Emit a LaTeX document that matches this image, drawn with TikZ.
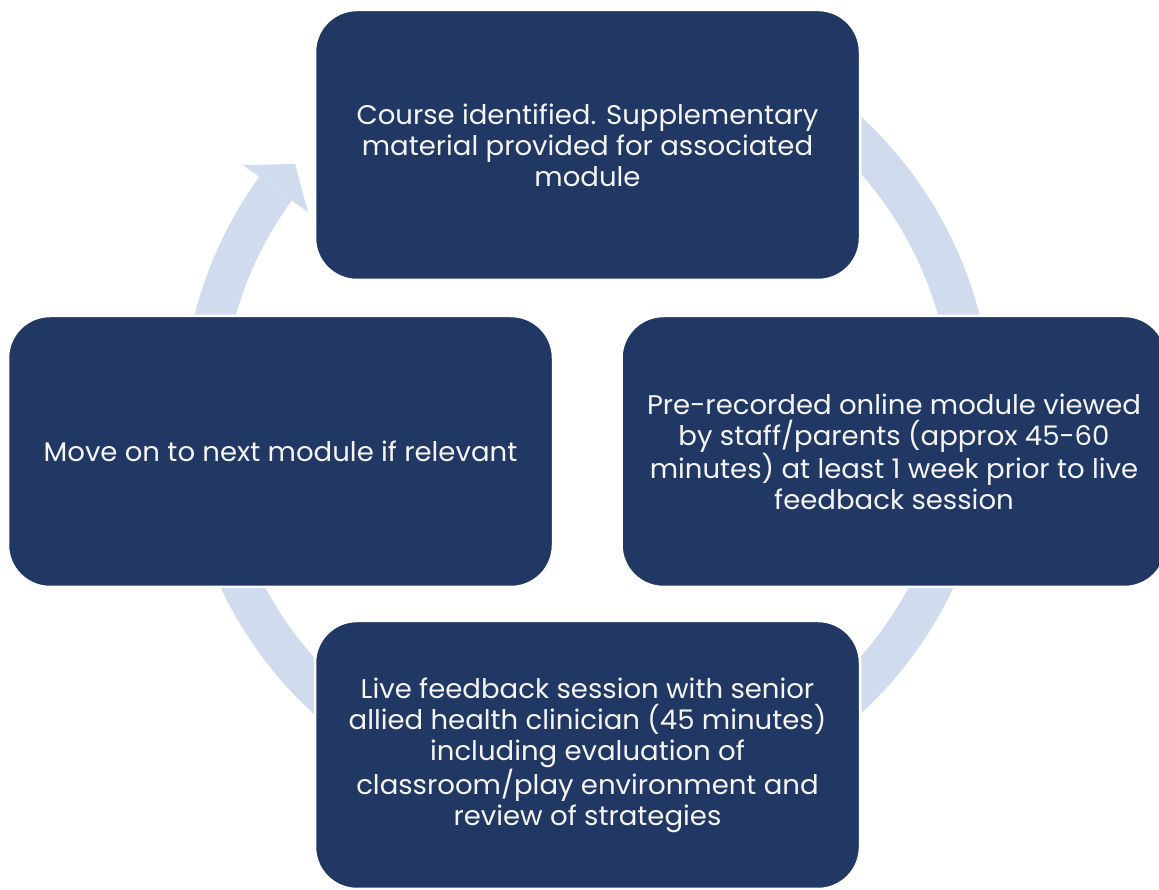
\documentclass[tikz,border=0pt]{standalone}
\usepackage{fontspec}
\setmainfont{Poppins}[FakeStretch=1.02]
\usetikzlibrary{calc}
\definecolor{navy}{RGB}{33,56,100}
\definecolor{ringc}{RGB}{208,220,238}
\definecolor{txt}{RGB}{245,245,245}
\tikzset{
  stepbox/.style={rectangle, rounded corners=42pt, fill=navy, draw=white, line width=2.5pt,
    minimum width=545pt, inner sep=0pt, text=txt, align=center,
    font=\fontsize{27}{31}\selectfont},
  ring/.style={fill=ringc}
}
\begin{document}
\begin{tikzpicture}[x=1pt,y=1pt]
\clip (0,0) rectangle (1159,890);
\fill[white] (0,0) rectangle (1159,890);
\coordinate (C) at (587,475);
% ring with arrowhead
\fill[ring] ($(C)+(75:405)$) arc[start angle=75, end angle=-216, radius=405]
  -- ($(C)+(-216:365)$) arc[start angle=-216, end angle=75, radius=365] -- cycle;
\fill[ring] ($(C)+(-216:345)$) -- ($(C)+(-220.7:385)$) -- ($(C)+(-216:425)$) -- cycle;
% boxes
\node[stepbox, minimum height=270pt] (top) at (587.5,745) {Course identified. Supplementary\\material provided for associated\\module};
\node[stepbox, minimum height=271pt] (right) at (894,438.5) {Pre-recorded online module viewed\\by staff/parents (approx 45-60\\minutes) at least 1 week prior to live\\feedback session};
\node[stepbox, minimum height=271pt] (left) at (280.5,438.5) {Move on to next module if relevant};
\node[stepbox, minimum height=268pt] (bottom) at (587.5,135) {Live feedback session with senior\\allied health clinician (45 minutes)\\including evaluation of\\classroom/play environment and\\review of strategies};
\end{tikzpicture}
\end{document}
